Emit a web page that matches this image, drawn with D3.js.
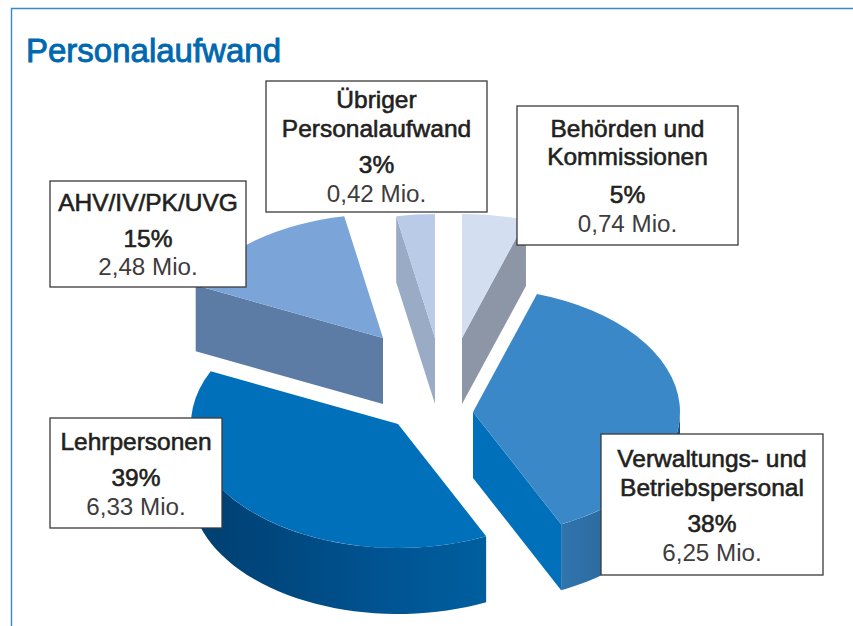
<!DOCTYPE html>
<html>
<head>
<meta charset="utf-8">
<script src="https://cdnjs.cloudflare.com/ajax/libs/d3/7.8.5/d3.min.js"></script>
<style>
  html, body { margin: 0; padding: 0; background: #fff; }
  svg { display: block; }
  text { font-family: "Liberation Sans", Arial, sans-serif; text-anchor: middle; }
</style>
</head>
<body>
<div class="container"></div>
<script>
// data, clockwise from 12 o'clock
const categories = ["Behörden und Kommissionen", "Verwaltungs- und Betriebspersonal", "Lehrpersonen", "AHV/IV/PK/UVG", "Übriger Personalaufwand"];
const nameLines = [["Behörden und", "Kommissionen"], ["Verwaltungs- und", "Betriebspersonal"], ["Lehrpersonen"], ["AHV/IV/PK/UVG"], ["Übriger", "Personalaufwand"]];
const percents = [5, 38, 39, 15, 3];
const millions = [0.74, 6.25, 6.33, 2.48, 0.42];

const width = 853, height = 626;

// ellipse of the tilted pie + thickness
const rx = 207, ry = 124, depth = 66;

// per slice: exploded apex, colours, which edge shows its cut face, label box
const apex = [[462, 338], [473, 412], [398, 424], [383, 338], [435, 338]];
const topColors = ["#d3dff1", "#3b88c8", "#0070bb", "#7ba5d8", "#b9cbe7"];
const cutColors = ["#8c96a6", "#0070bb", null, "#5d7ca5", "#9aabc6"];
const cutEdges = ["endAngle", "endAngle", null, "startAngle", "startAngle"];
const boxes = [
    { x: 517, y: 106, w: 221, h: 139, lines: [137, 165], pct: 203, mio: 232 },
    { x: 601, y: 434, w: 222, h: 141, lines: [467, 496], pct: 532, mio: 561 },
    { x: 50, y: 418, w: 172, h: 110, lines: [450], pct: 486, mio: 515 },
    { x: 50, y: 181, w: 196, h: 106, lines: [211], pct: 247, mio: 275 },
    { x: 266, y: 81, w: 221, h: 131, lines: [108, 137], pct: 173, mio: 202 }
];

const svg = d3.select(".container").append("svg")
    .attr("width", width)
    .attr("height", height);

const defs = svg.append("defs");

function addGradient(id, x1, x2, stops) {
    const g = defs.append("linearGradient")
        .attr("id", id)
        .attr("gradientUnits", "userSpaceOnUse")
        .attr("x1", x1).attr("x2", x2)
        .attr("y1", 0).attr("y2", 0);
    stops.forEach(s => g.append("stop").attr("offset", s[0]).attr("stop-color", s[1]));
}
// offsets are relative to the slice's apex, walls are drawn inside its group
addGradient("sideLehr", -207, 87, [[0, "#003f70"], [0.25, "#00467c"], [0.6, "#00528f"], [1, "#005e9f"]]);
addGradient("sideVerw", 87, 207, [[0, "#3075ad"], [0.4, "#2c6a9f"], [1, "#184f80"]]);

// frame, open on the right and at the bottom like the page crop
svg.append("path")
    .attr("d", `M${width},8.5H11.5V${height}`)
    .attr("fill", "none")
    .attr("stroke", "#3b87c7")
    .attr("stroke-width", 1.4);

svg.append("text")
    .attr("x", 153.5)
    .attr("y", 62)
    .attr("font-size", 33)
    .attr("fill", "#0068b0")
    .attr("stroke", "#0068b0")
    .attr("stroke-width", 0.9)
    .text("Personalaufwand");

// angles come from d3.pie, 0 = up
const slices = d3.pie().sort(null).value(d => d)(percents);

const rim = a => [rx * Math.sin(a), -ry * Math.cos(a)];
const line = d3.line();

const main = svg.append("g");

slices.forEach((s, i) => {
    const [ax, ay] = apex[i];
    const g = main.append("g").attr("transform", `translate(${ax},${ay})`).attr("class", "slice-" + i);

    // outer wall, only the part facing the viewer
    const a0 = Math.max(s.startAngle, Math.PI / 2);
    const a1 = Math.min(s.endAngle, Math.PI * 1.5);
    if (a1 > a0) {
        const n = 40;
        const arcPts = d3.range(n + 1).map(k => rim(a0 + (a1 - a0) * k / n));
        const wall = arcPts.concat(arcPts.slice().reverse().map(p => [p[0], p[1] + depth]));
        g.append("path")
            .attr("d", line(wall) + "Z")
            .attr("fill", i === 1 ? "url(#sideVerw)" : "url(#sideLehr)");
    }

    // cut face along whichever straight edge faces the viewer
    if (cutColors[i]) {
        const p = rim(s[cutEdges[i]]);
        g.append("path")
            .attr("d", line([[0, 0], p, [p[0], p[1] + depth], [0, depth]]) + "Z")
            .attr("fill", cutColors[i]);
    }

    // top face
    g.append("path")
        .attr("d", d3.arc().innerRadius(0).outerRadius(rx)(s))
        .attr("transform", `scale(1,${ry / rx})`)
        .attr("fill", topColors[i]);
});

// label boxes
const labels = svg.append("g");
slices.forEach((s, i) => {
    const b = boxes[i];
    const cx = b.x + b.w / 2;
    labels.append("rect")
        .attr("x", b.x).attr("y", b.y)
        .attr("width", b.w).attr("height", b.h)
        .attr("fill", "#fff")
        .attr("stroke", "#3a3a3a")
        .attr("stroke-width", 1.3);
    nameLines[i].forEach((t, j) => {
        labels.append("text")
            .attr("x", cx).attr("y", b.lines[j])
            .attr("font-size", 24.5)
            .attr("fill", "#231f20")
            .attr("stroke", "#231f20")
            .attr("stroke-width", 0.6)
            .text(t);
    });
    labels.append("text")
        .attr("x", cx).attr("y", b.pct)
        .attr("font-size", 24.5)
        .attr("fill", "#231f20")
        .attr("stroke", "#231f20")
        .attr("stroke-width", 0.6)
        .text(percents[i] + "%");
    labels.append("text")
        .attr("x", cx).attr("y", b.mio)
        .attr("font-size", 24.2)
        .attr("fill", "#3f3c3d")
        .text(millions[i].toFixed(2).replace(".", ",") + " Mio.");
});
</script>
</body>
</html>
